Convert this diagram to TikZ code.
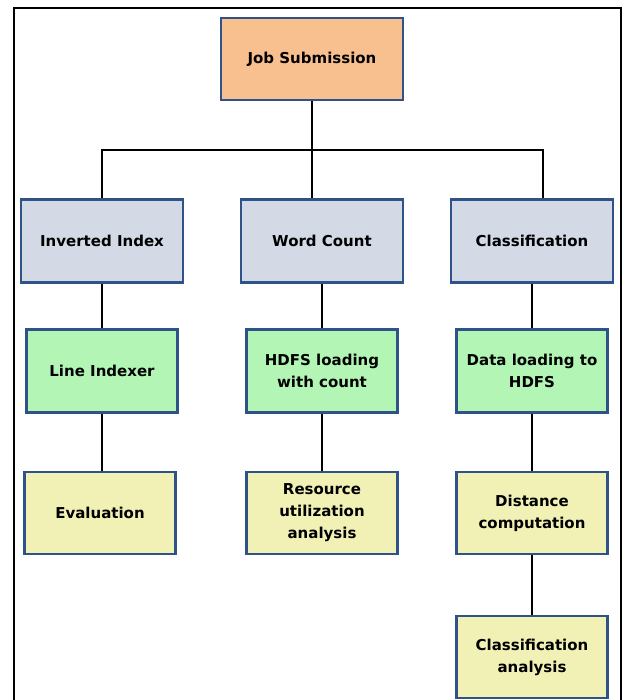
\documentclass[tikz,border=0pt]{standalone}
\usepackage{fontspec}
\setmainfont{DejaVu Sans}
\definecolor{boxblue}{HTML}{2F5388}
\definecolor{joborange}{HTML}{F9C08F}
\definecolor{appgrey}{HTML}{D3DAE6}
\definecolor{stepgreen}{HTML}{B3F5B5}
\definecolor{resultyellow}{HTML}{F1F1B5}
\begin{document}
\begin{tikzpicture}[x=1pt, y=-1pt,
        box/.style={draw=boxblue, line width=2.4pt, inner sep=2pt, align=center,
            font=\fontsize{15}{22}\selectfont\bfseries},
        jobbox/.style={box, fill=joborange, minimum width=182pt, minimum height=82pt},
        appbox/.style={box, fill=appgrey, minimum width=162pt, minimum height=83pt},
        stepbox/.style={box, fill=stepgreen, minimum width=151pt, minimum height=83pt},
        resultbox/.style={box, fill=resultyellow, minimum width=151pt, minimum height=82pt},
        link/.style={line width=2.2pt}
    ]
    \useasboundingbox (0,0) rectangle (622,700);

    % --- frame ---
    \draw[line width=2.2pt] (14,700) -- (14,8) -- (621,8) -- (621,700);

    % --- top ---
    \node[jobbox] (job) at (312, 59) {Job Submission};

    % --- applications ---
    \node[appbox] (inv) at (102, 241) {Inverted Index};
    \node[appbox] (wc)  at (322, 241) {Word Count};
    \node[appbox] (cls) at (532, 241) {Classification};

    % --- steps ---
    \node[stepbox] (lineidx) at (102, 371) {Line Indexer};
    \node[stepbox] (hdfswc)  at (322, 371) {HDFS loading\\with count};
    \node[stepbox] (hdfscl)  at (532, 371) {Data loading to\\HDFS};

    % --- results ---
    \node[resultbox] (eval) at (100, 513) {Evaluation};
    \node[resultbox] (res)  at (322, 513) {Resource\\utilization\\analysis};
    \node[resultbox] (dist) at (532, 513) {Distance\\computation};
    \node[resultbox] (clsan) at (532, 657) {Classification\\analysis};

    % --- connectors ---
    \coordinate (busR) at (543, 150);
    \draw[link] (job.south) -- (job.south |- wc.north);
    \draw[link] (inv.north) |- (busR) -- (busR |- cls.north);
    \draw[link] (inv) -- (lineidx);
    \draw[link] (lineidx.south) -- (lineidx.south |- eval.north);
    \draw[link] (wc) -- (hdfswc);
    \draw[link] (hdfswc) -- (res);
    \draw[link] (cls) -- (hdfscl);
    \draw[link] (hdfscl) -- (dist);
    \draw[link] (dist) -- (clsan);
\end{tikzpicture}
\end{document}
